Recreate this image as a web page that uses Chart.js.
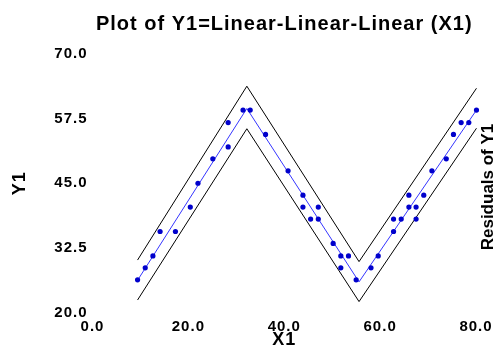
<!DOCTYPE html>
<html>
<head>
<meta charset="utf-8">
<script src="https://cdn.jsdelivr.net/npm/chart.js@4"></script>
<style>
    html, body { margin: 0; padding: 0; background: #fff; }
</style>
</head>
<body>
<canvas id="plot" width="499" height="349"></canvas>
<script>
// observed data (X1, Y1)
const x1 = [9.4, 11.0, 12.6, 14.1, 17.3, 20.4, 22.0, 25.1, 28.3, 28.3, 31.4, 32.9, 36.1, 40.8,
    43.9, 43.9, 45.5, 47.1, 47.1, 50.2, 51.8, 51.8, 53.4, 55.0, 58.1, 59.6, 62.8, 62.8,
    64.4, 66.0, 66.0, 67.5, 67.5, 69.1, 70.8, 73.8, 75.3, 76.9, 78.5, 80.1];
const y1 = [26.4, 28.7, 31.0, 35.7, 35.7, 40.4, 45.0, 49.7, 52.0, 56.7, 59.1, 59.1, 54.4, 47.4,
    42.7, 40.4, 38.1, 40.4, 38.1, 33.4, 31.0, 28.7, 31.0, 26.4, 28.7, 31.0, 35.7, 38.1,
    38.1, 40.4, 42.7, 40.4, 38.1, 42.7, 47.4, 49.7, 54.4, 56.7, 56.7, 59.1];

// fitted linear-linear-linear curve and its band
const fitX = [9.4, 32.2, 55.6, 80.1];
const fitY = [26.3, 59.4, 26.0, 59.1];
const upperY = [30.2, 63.7, 29.9, 63.3];
const lowerY = [22.5, 55.5, 22.2, 55.6];

const xMin = 0, xMax = 80, xStep = 20;
const yMin = 20, yMax = 70, yStep = 12.5;

const toPoints = (xs, ys) => xs.map((x, i) => ({ x: x, y: ys[i] }));

const spacing = {
    id: 'spacing',
    beforeLayout(chart) { chart.ctx.letterSpacing = '1px'; },
    beforeDraw(chart) { chart.ctx.letterSpacing = '1px'; }
};

const sideLabel = {
    id: 'sideLabel',
    afterDraw(chart) {
        const ctx = chart.ctx;
        ctx.save();
        ctx.letterSpacing = '0px';
        ctx.translate(488, 187);
        ctx.rotate(-Math.PI / 2);
        ctx.font = 'bold 17px "Liberation Sans", Arial, sans-serif';
        ctx.fillStyle = '#000';
        ctx.textAlign = 'center';
        ctx.textBaseline = 'middle';
        ctx.fillText('Residuals of Y1', 0, 0);
        ctx.restore();
    }
};

Chart.defaults.font.family = '"Liberation Sans", Arial, sans-serif';
Chart.defaults.color = '#000';

new Chart(document.getElementById('plot'), {
    type: 'scatter',
    data: {
        datasets: [
            {
                label: 'Y1',
                data: toPoints(x1, y1),
                backgroundColor: '#0000cc',
                borderWidth: 0,
                pointRadius: 2.6,
                clip: false
            },
            {
                label: 'Fit',
                data: toPoints(fitX, fitY),
                showLine: true,
                borderColor: '#3535ff',
                borderWidth: 1,
                pointRadius: 0,
                clip: false
            },
            {
                label: 'Upper',
                data: toPoints(fitX, upperY),
                showLine: true,
                borderColor: '#000',
                borderWidth: 1,
                pointRadius: 0,
                clip: false
            },
            {
                label: 'Lower',
                data: toPoints(fitX, lowerY),
                showLine: true,
                borderColor: '#000',
                borderWidth: 1,
                pointRadius: 0,
                clip: false
            }
        ]
    },
    options: {
        responsive: false,
        devicePixelRatio: 1,
        animation: false,
        layout: { padding: { left: 0, right: 23, top: 0, bottom: 0 } },
        plugins: {
            legend: { display: false },
            tooltip: { enabled: false },
            title: {
                display: true,
                text: 'Plot of Y1=Linear-Linear-Linear (X1)',
                fullSize: false,
                color: '#000',
                font: { size: 20, weight: 'bold', lineHeight: 1.2 },
                padding: { top: 12, bottom: 17.5 }
            }
        },
        scales: {
            x: {
                type: 'linear',
                min: xMin,
                max: xMax,
                grid: { display: false, drawTicks: false },
                border: { display: false },
                ticks: {
                    stepSize: xStep,
                    padding: 5,
                    maxRotation: 0,
                    font: { size: 15, weight: 'bold', lineHeight: 1.2 },
                    callback: v => v.toFixed(1)
                },
                title: {
                    display: true,
                    text: 'X1',
                    font: { size: 18, weight: 'bold', lineHeight: 1 },
                    padding: { top: 0, bottom: 0 }
                },
                afterFit(scale) { scale.height = 36; }
            },
            y: {
                type: 'linear',
                min: yMin,
                max: yMax,
                grid: { display: false, drawTicks: false },
                border: { display: false },
                ticks: {
                    stepSize: yStep,
                    padding: 5,
                    font: { size: 15, weight: 'bold', lineHeight: 1.2 },
                    callback: v => v.toFixed(1)
                },
                title: {
                    display: true,
                    text: 'Y1',
                    font: { size: 18, weight: 'bold', lineHeight: 1.2 },
                    padding: { top: 9, bottom: 0 }
                },
                afterFit(scale) { scale.width = 92.5; }
            }
        }
    },
    plugins: [spacing, sideLabel]
});
</script>
</body>
</html>
